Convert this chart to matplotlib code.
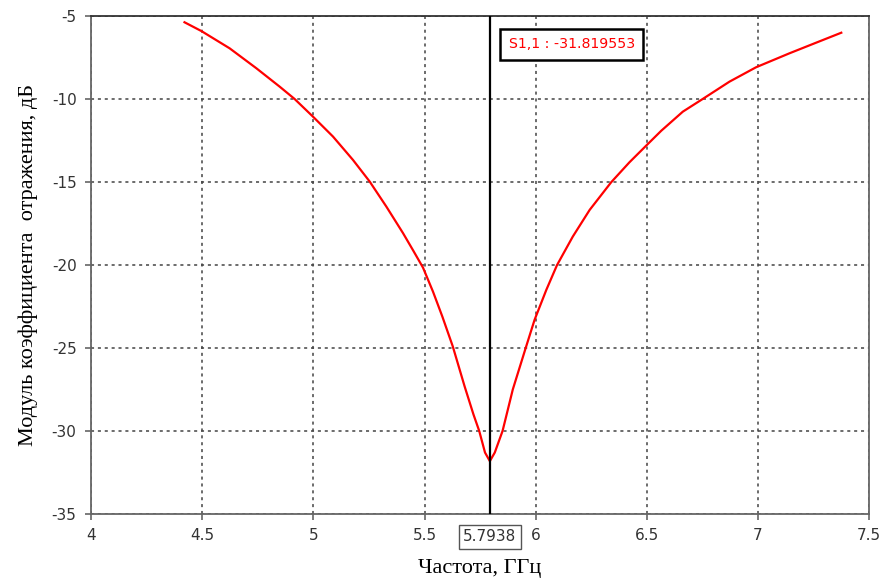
import matplotlib
matplotlib.use("Agg")
import matplotlib.pyplot as plt

plt.rcParams["axes.unicode_minus"] = False

# ─────────────────────────────────────────
# DATA
# ─────────────────────────────────────────
freq_ghz = [4.42, 4.496, 4.623, 4.743, 4.848, 4.915, 4.998, 5.088, 5.178,
            5.253, 5.328, 5.403, 5.448, 5.493, 5.538, 5.58, 5.627, 5.68,
            5.72, 5.746, 5.772, 5.7938, 5.816, 5.851, 5.875, 5.897, 5.955,
            5.995, 6.048, 6.096, 6.167, 6.243, 6.34, 6.422, 6.497, 6.565,
            6.662, 6.752, 6.872, 6.992, 7.142, 7.262, 7.375]
s11_db = [-5.36, -5.89, -6.93, -8.13, -9.24, -9.98, -11.05, -12.25, -13.66,
          -14.96, -16.47, -18.07, -19.1, -20.15, -21.6, -23.1, -24.9, -27.3,
          -29.0, -30.0, -31.3, -31.82, -31.3, -30.0, -28.7, -27.5, -25.0,
          -23.3, -21.49, -20.0, -18.28, -16.67, -15.0, -13.8, -12.8, -11.9,
          -10.75, -9.98, -8.94, -8.07, -7.23, -6.59, -5.99]

marker_freq = 5.7938
marker_value = -31.819553

x_ticks = [4, 4.5, 5, 5.5, 6, 6.5, 7, 7.5]
x_ticklabels = ["4", "4.5", "5", "5.5", "6", "6.5", "7", "7.5"]
y_ticks = [-35, -30, -25, -20, -15, -10, -5]

# ─────────────────────────────────────────
# FIGURE
# ─────────────────────────────────────────
fig = plt.figure(figsize=(8.85, 5.82), dpi=100)
ax = fig.add_axes([0.103, 0.117, 0.879, 0.855])

ax.plot(freq_ghz, s11_db, color="red", lw=1.6, zorder=3)
ax.axvline(marker_freq, color="black", lw=1.6, zorder=4)

ax.set_xlim(4, 7.5)
ax.set_ylim(-35, -5)
ax.set_xticks(x_ticks)
ax.set_xticklabels(x_ticklabels)
ax.set_yticks(y_ticks)

ax.grid(True, color="#444444", linestyle=(0, (2, 2.5)), lw=1.1)
ax.tick_params(direction="out", length=4, width=1.2, color="#666666",
               labelsize=11, labelcolor="#333333")
ax.tick_params(axis="x", pad=6.5)
ax.tick_params(axis="y", pad=6.5)
for side, sp in ax.spines.items():
    sp.set_color("#666666" if side != "top" else "#333333")
    sp.set_linewidth(1.3)

serif = ["Liberation Serif", "DejaVu Serif"]
ax.set_xlabel("Частота, ГГц", family=serif, fontsize=16, labelpad=11)
ax.set_ylabel("Модуль коэффициента  отражения, дБ", family=serif,
              fontsize=16, labelpad=10)

# marker readout box at the top
ax.text(5.878, -6.7, f"S1,1 : {marker_value:.6f}", color="red", fontsize=10.2,
        ha="left", va="center", zorder=5,
        bbox=dict(boxstyle="square,pad=0.6", fc="white", ec="black", lw=1.8))

# marker frequency box on the x axis
ax.annotate(f"{marker_freq:.4f}", xy=(marker_freq, 0),
            xycoords=("data", "axes fraction"), xytext=(0, -11),
            textcoords="offset points", ha="center", va="top",
            color="#333333", fontsize=11, zorder=5, annotation_clip=False,
            bbox=dict(boxstyle="square,pad=0.3", fc="white", ec="#555555", lw=1.0))

fig.savefig("out.png", dpi=100)
